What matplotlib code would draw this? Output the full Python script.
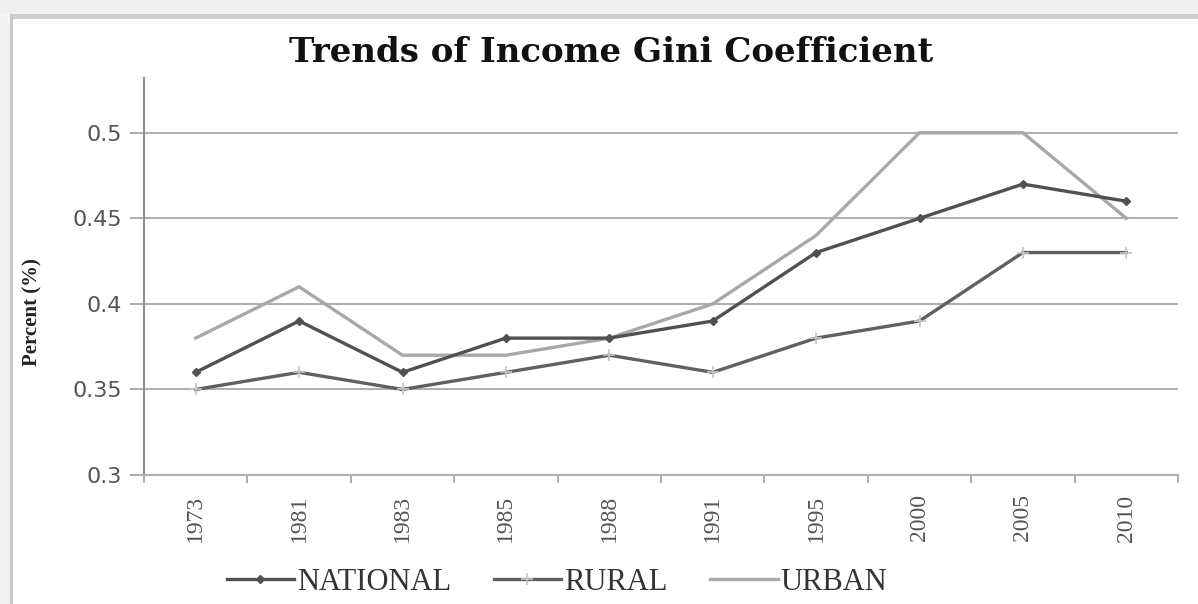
import matplotlib
matplotlib.use("Agg")
import matplotlib.pyplot as plt
from matplotlib.patches import Rectangle
import numpy as np

years = ["1973", "1981", "1983", "1985", "1988", "1991", "1995", "2000", "2005", "2010"]
national = [0.36, 0.39, 0.36, 0.38, 0.38, 0.39, 0.43, 0.45, 0.47, 0.46]
rural = [0.35, 0.36, 0.35, 0.36, 0.37, 0.36, 0.38, 0.39, 0.43, 0.43]
urban = [0.38, 0.41, 0.37, 0.37, 0.38, 0.40, 0.44, 0.50, 0.50, 0.45]
yticks = [0.3, 0.35, 0.4, 0.45, 0.5]
ytick_labels = ["0.3", "0.35", "0.4", "0.45", "0.5"]

W, H = 1198, 604
fig = plt.figure(figsize=(W / 100, H / 100), dpi=100)
fig.patch.set_facecolor("white")

# outer frame decorations
fig.add_artist(Rectangle((0, 1 - 14 / H), 1, 14 / H, transform=fig.transFigure,
                         facecolor="#efefef", edgecolor="none", zorder=0))
fig.add_artist(Rectangle((10 / W, 1 - 19 / H), 1, 5 / H, transform=fig.transFigure,
                         facecolor="#cfcfcf", edgecolor="none", zorder=0))
fig.add_artist(Rectangle((0, 0), 10 / W, 1 - 14 / H, transform=fig.transFigure,
                         facecolor="#f3f3f3", edgecolor="none", zorder=0))
fig.add_artist(Rectangle((10 / W, 0), 3 / W, 1 - 14 / H, transform=fig.transFigure,
                         facecolor="#c8c8c8", edgecolor="none", zorder=0))

ax = fig.add_axes([144 / W, 1 - 475 / H, (1178 - 144) / W, (475 - 78) / H])
x = np.arange(len(years))

ax.plot(x, urban, color="#a8a8a8", lw=2.4, label="URBAN", zorder=3)
ax.plot(x, rural, color="#606060", lw=2.4, marker="+", ms=8, mec="#c4c4c4",
        mew=1.2, label="RURAL", zorder=4)
ax.plot(x, national, color="#505050", lw=2.4, marker="D", ms=4.5, mfc="#505050",
        mec="#505050", label="NATIONAL", zorder=5)

ax.set_xlim(-0.5, len(years) - 0.5)
ax.set_ylim(0.3, 0.532)
ax.set_yticks(yticks)
ax.set_yticklabels(ytick_labels, fontsize=16, color="#555555", family="DejaVu Sans")
ax.yaxis.grid(True, color="#b0b0b0", lw=1.5)
ax.set_axisbelow(True)

ax.set_xticks(x)
ax.set_xticklabels(years, rotation=90, fontsize=17, color="#555555",
                   family="Liberation Serif")
ax.set_xticks(np.arange(-0.5, len(years), 1.0), minor=True)
ax.tick_params(axis="x", which="major", length=0, pad=14)
ax.tick_params(axis="x", which="minor", length=6, color="#a0a0a0", width=1.2, direction="out")
ax.tick_params(axis="y", length=10, color="#a0a0a0", width=1.2, pad=6)

for s in ["top", "right"]:
    ax.spines[s].set_visible(False)
ax.spines["left"].set_color("#909090")
ax.spines["left"].set_linewidth(1.5)
ax.spines["bottom"].set_color("#b0b0b0")
ax.spines["bottom"].set_linewidth(1.5)

fig.text(32 / W, 1 - 312 / H, "Percent (%)", rotation=90, ha="center", va="center",
         fontsize=15, fontweight="bold", family="Liberation Serif", color="#222222")

fig.text(611 / W, 1 - 52 / H, "Trends of Income Gini Coefficient", ha="center",
         va="center", fontsize=24.5, fontweight="bold", family="DejaVu Serif",
         color="#111111")

handles, labels = ax.get_legend_handles_labels()
order = [2, 1, 0]
leg = fig.legend([handles[i] for i in order], [labels[i] for i in order],
                 loc="center", bbox_to_anchor=(557 / W, 1 - 582 / H), ncol=3,
                 frameon=False, prop={"family": "Liberation Serif", "size": 22},
                 handlelength=2.2, columnspacing=1.4, handletextpad=0.1)
for t in leg.get_texts():
    t.set_color("#333333")

fig.savefig("out.png", dpi=100, facecolor="white")
